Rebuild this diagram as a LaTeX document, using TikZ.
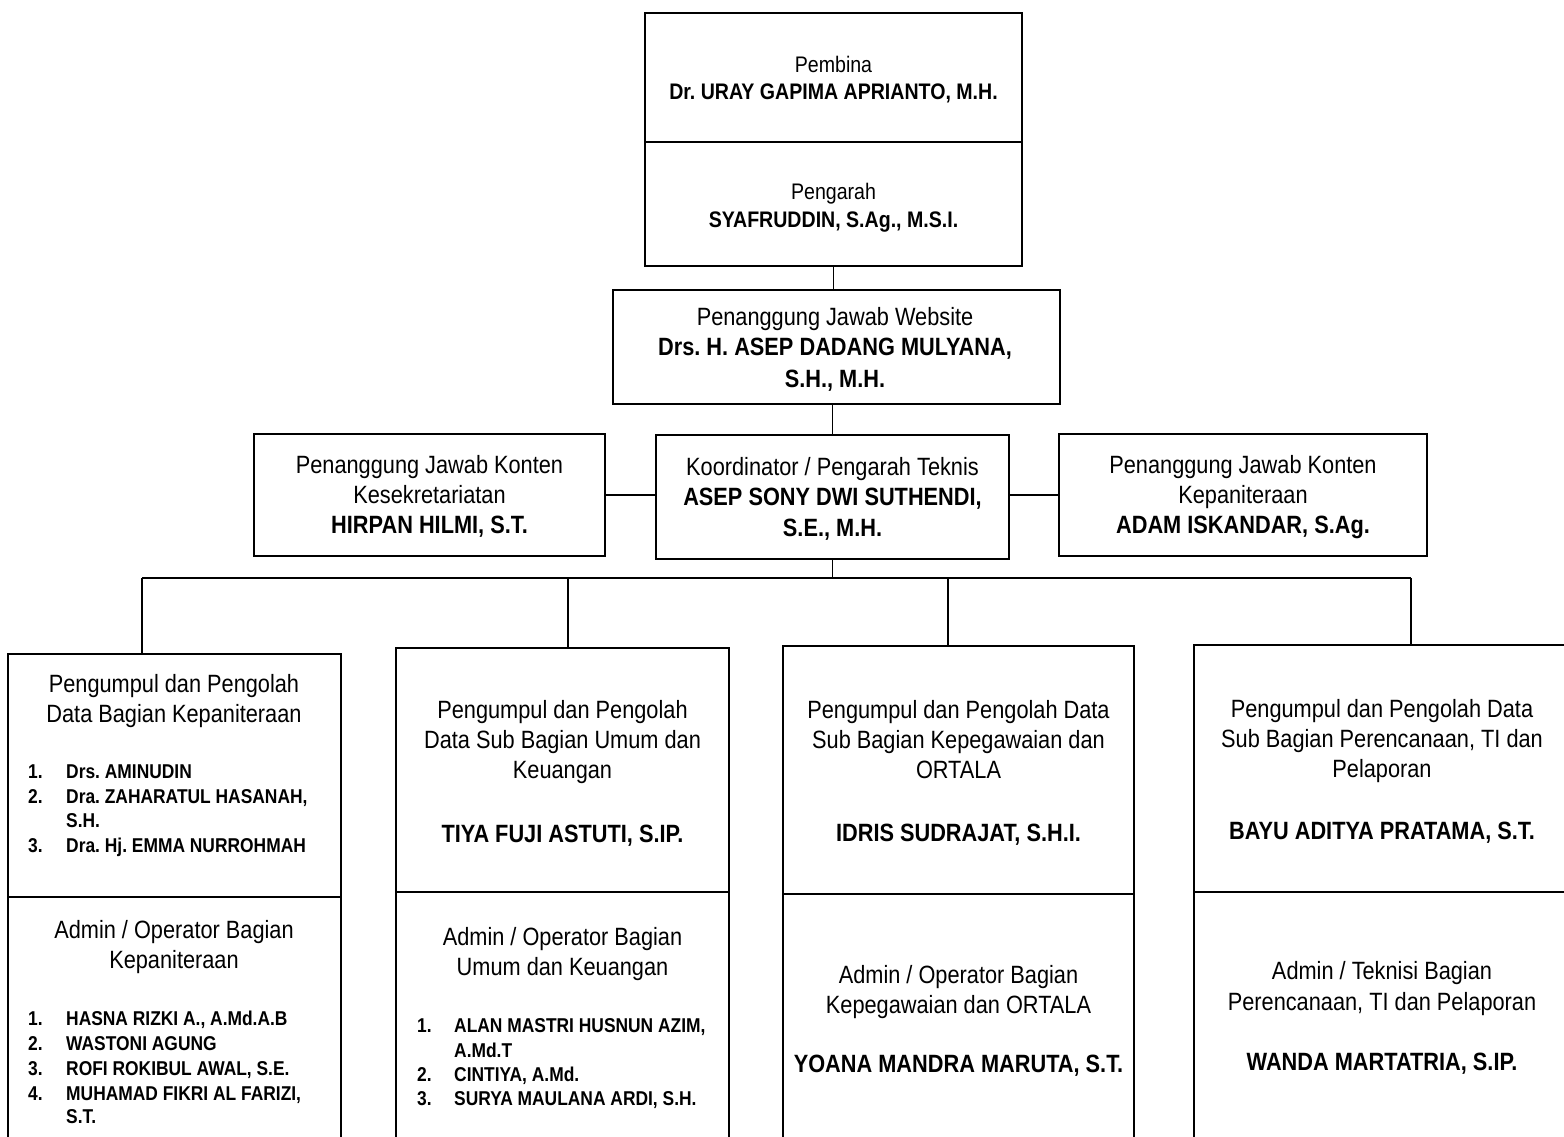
\documentclass[tikz,border=0pt]{standalone}
\usepackage{fontspec}
\setmainfont{Liberation Sans}[FakeStretch=0.87]
\frenchspacing
\newcounter{lnc}
\newcommand{\tline}[4][hd]{\stepcounter{lnc}\node[#1] (L\arabic{lnc}) at (#2,#3) {#4};}
\newcommand{\litem}[5]{\stepcounter{lnc}\node[li] (N\arabic{lnc}) at (#1,#3) {#4};\node[li] (I\arabic{lnc}) at (#2,#3) {#5};}
\newcommand{\lcont}[3]{\stepcounter{lnc}\node[li] (I\arabic{lnc}) at (#1,#2) {#3};}
\begin{document}
\begin{tikzpicture}[x=1pt,y=-1pt,
  box/.style={draw, line width=2.6pt, inner sep=0pt, outer sep=0pt},
  conn/.style={line width=1.4pt},
  hd/.style={anchor=base, inner sep=0pt, font=\fontsize{25}{30}\selectfont\frenchspacing},
  hb/.style={anchor=base, inner sep=0pt, font=\fontsize{25}{30}\selectfont\bfseries\frenchspacing},
  hs/.style={anchor=base, inner sep=0pt, font=\fontsize{22.5}{27}\selectfont\frenchspacing},
  hsb/.style={anchor=base, inner sep=0pt, font=\fontsize{22.5}{27}\selectfont\bfseries\frenchspacing},
  li/.style={anchor=base west, inner sep=0pt, font=\fontsize{20}{24}\selectfont\bfseries\frenchspacing}]
\useasboundingbox (0,0) rectangle (1564,1136);
\clip (0,0) rectangle (1564,1136);
\fill[white] (0,0) rectangle (1564,1136);

% top boxes
\node[box, minimum width=377pt, minimum height=129pt] (pembina) at (833.5,77.5) {};
\node[box, minimum width=377pt, minimum height=124pt] (pengarah) at (833.5,204) {};
\node[box, minimum width=447pt, minimum height=114pt] (web) at (836.5,347) {};
% middle row
\node[box, minimum width=351pt, minimum height=122pt] (kl) at (429.5,495) {};
\node[box, minimum width=353pt, minimum height=124pt] (koord) at (832.5,497) {};
\node[box, minimum width=368pt, minimum height=122pt] (kr) at (1243,495) {};
% bottom boxes
\node[box, minimum width=333pt, minimum height=243pt] (b1u) at (174.5,775.5) {};
\node[box, minimum width=333pt, minimum height=273pt] (b1l) at (174.5,1033.5) {};
\node[box, minimum width=333pt, minimum height=244pt] (b2u) at (562.5,770) {};
\node[box, minimum width=333pt, minimum height=278pt] (b2l) at (562.5,1031) {};
\node[box, minimum width=351pt, minimum height=248pt] (b3u) at (958.5,770) {};
\node[box, minimum width=351pt, minimum height=276pt] (b3l) at (958.5,1032) {};
\node[box, minimum width=376pt, minimum height=247pt] (b4u) at (1382,768.5) {};
\node[box, minimum width=376pt, minimum height=278pt] (b4l) at (1382,1031) {};

% connectors
\draw[conn] (pengarah.south) -- (pengarah.south |- web.north);
\draw[conn] (web.south -| koord.north) -- (koord.north);
\draw[conn] (kl.east) -- (kl.east -| koord.west);
\draw[conn] (kr.west) -- (kr.west -| koord.east);
\coordinate (bus) at (832.5,578);
\coordinate (d1) at (142,578);
\coordinate (d2) at (568,578);
\coordinate (d3) at (948,578);
\coordinate (d4) at (1411,578);
\draw[conn] (koord.south) -- (bus);
\draw[conn] (d1) -- (d4);
\draw[conn] (d1) -- (d1 |- b1u.north);
\draw[conn] (d2) -- (d2 |- b2u.north);
\draw[conn] (d3) -- (d3 |- b3u.north);
\draw[conn] (d4) -- (d4 |- b4u.north);

% texts top
\tline[hs]{833.5}{72}{Pembina}
\tline[hsb]{833.5}{99}{Dr. URAY GAPIMA APRIANTO, M.H.}
\tline[hs]{833.5}{199}{Pengarah}
\tline[hsb]{833.5}{227}{SYAFRUDDIN, S.Ag., M.S.I.}
\tline{835}{325}{Penanggung Jawab Website}
\tline[hb]{835}{355}{Drs. H. ASEP DADANG MULYANA,}
\tline[hb]{835}{387}{S.H., M.H.}
% middle row
\tline{429.5}{473}{Penanggung Jawab Konten}
\tline{429.5}{503}{Kesekretariatan}
\tline[hb]{429.5}{533}{HIRPAN HILMI, S.T.}
\tline{832.5}{475}{Koordinator / Pengarah Teknis}
\tline[hb]{832.5}{505}{ASEP SONY DWI SUTHENDI,}
\tline[hb]{832.5}{536}{S.E., M.H.}
\tline{1243}{473}{Penanggung Jawab Konten}
\tline{1243}{503}{Kepaniteraan}
\tline[hb]{1243}{533}{ADAM ISKANDAR, S.Ag.}

% box 1
\tline{174}{692}{Pengumpul dan Pengolah}
\tline{174}{722}{Data Bagian Kepaniteraan}
\litem{28}{66}{778}{1.}{Drs. AMINUDIN}
\litem{28}{66}{803}{2.}{Dra. ZAHARATUL HASANAH,}
\lcont{66}{827}{S.H.}
\litem{28}{66}{852}{3.}{Dra. Hj. EMMA NURROHMAH}
\tline{174}{938}{Admin / Operator Bagian}
\tline{174}{968}{Kepaniteraan}
\litem{28}{66}{1025}{1.}{HASNA RIZKI A., A.Md.A.B}
\litem{28}{66}{1050}{2.}{WASTONI AGUNG}
\litem{28}{66}{1075}{3.}{ROFI ROKIBUL AWAL, S.E.}
\litem{28}{66}{1100}{4.}{MUHAMAD FIKRI AL FARIZI,}
\lcont{66}{1123}{S.T.}

% box 2
\tline{562.5}{718}{Pengumpul dan Pengolah}
\tline{562.5}{748}{Data Sub Bagian Umum dan}
\tline{562.5}{778}{Keuangan}
\tline[hb]{562.5}{842}{TIYA FUJI ASTUTI, S.IP.}
\tline{562.5}{945}{Admin / Operator Bagian}
\tline{562.5}{975}{Umum dan Keuangan}
\litem{417}{454}{1032}{1.}{ALAN MASTRI HUSNUN AZIM,}
\lcont{454}{1057}{A.Md.T}
\litem{417}{454}{1081}{2.}{CINTIYA, A.Md.}
\litem{417}{454}{1105}{3.}{SURYA MAULANA ARDI, S.H.}

% box 3
\tline{958.5}{718}{Pengumpul dan Pengolah Data}
\tline{958.5}{748}{Sub Bagian Kepegawaian dan}
\tline{958.5}{778}{ORTALA}
\tline[hb]{958.5}{841}{IDRIS SUDRAJAT, S.H.I.}
\tline{958.5}{983}{Admin / Operator Bagian}
\tline{958.5}{1013}{Kepegawaian dan ORTALA}
\tline[hb]{958.5}{1072}{YOANA MANDRA MARUTA, S.T.}

% box 4
\tline{1382}{717}{Pengumpul dan Pengolah Data}
\tline{1382}{747}{Sub Bagian Perencanaan, TI dan}
\tline{1382}{777}{Pelaporan}
\tline[hb]{1382}{839}{BAYU ADITYA PRATAMA, S.T.}
\tline{1382}{979}{Admin / Teknisi Bagian}
\tline{1382}{1010}{Perencanaan, TI dan Pelaporan}
\tline[hb]{1382}{1070}{WANDA MARTATRIA, S.IP.}
\end{tikzpicture}
\end{document}
